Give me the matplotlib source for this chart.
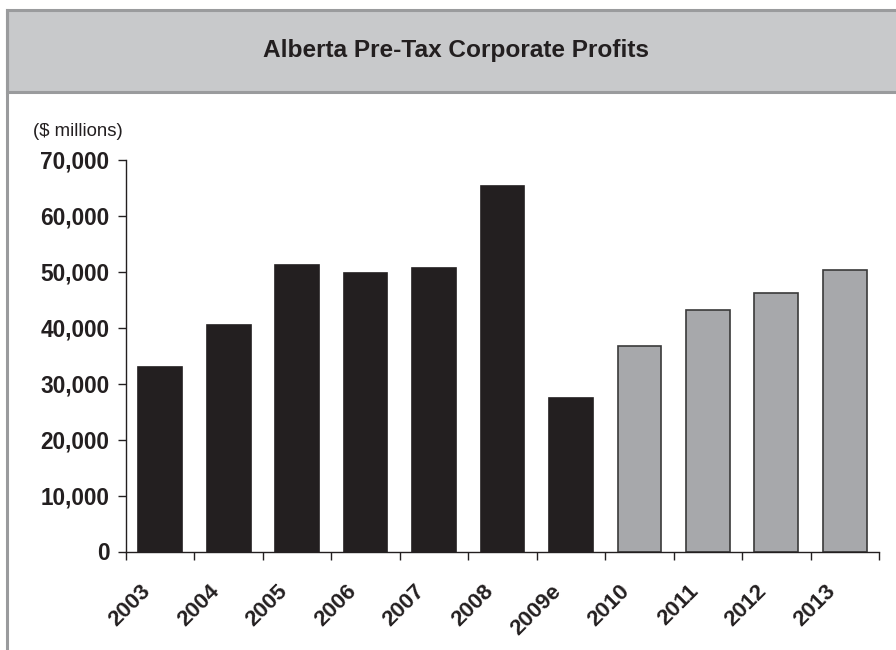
import matplotlib.pyplot as plt
from matplotlib.patches import Rectangle
from matplotlib.lines import Line2D
from matplotlib.transforms import ScaledTranslation
import numpy as np

plt.rcParams['font.family'] = ['Liberation Sans', 'DejaVu Sans']

# Data
years = ['2003', '2004', '2005', '2006', '2007', '2008', '2009e',
         '2010', '2011', '2012', '2013']
profits = [33000, 40500, 51200, 49800, 50700, 65300, 27400,
           36700, 43200, 46300, 50300]
is_forecast = [False] * 7 + [True] * 4

fig = plt.figure(figsize=(8.96, 6.5), dpi=100)

# Header band and frame
W, H = 896, 650
fig.patches.append(Rectangle((6.5 / W, 1 - 92 / H), 1, (92 - 10) / H,
                             transform=fig.transFigure, facecolor='#c8c9cb',
                             edgecolor='#9a9b9d', linewidth=2.2, zorder=0))
fig.lines.append(Line2D([6.5 / W, 6.5 / W], [0, 1 - 10 / H],
                        transform=fig.transFigure, color='#9a9b9d',
                        linewidth=2.2, zorder=1))
fig.text(456 / W, 1 - 51 / H, 'Alberta Pre-Tax Corporate Profits',
         ha='center', va='center', fontsize=17.6, fontweight='bold', color='#231f20')
fig.text(33 / W, 1 - 132 / H, '($ millions)', ha='left', va='center',
         fontsize=13.4, color='#231f20')

ax = fig.add_axes([126 / W, 1 - 551.5 / H, (879 - 126) / W, (551.5 - 160) / H])

x = np.arange(len(years))
colors = ['#a7a8ab' if f else '#231f20' for f in is_forecast]
edges = ['#3a3a3a' if f else '#231f20' for f in is_forecast]
ax.bar(x, profits, width=0.64, color=colors, edgecolor=edges, linewidth=1.2)

ax.set_xlim(-0.5, len(years) - 0.5)
ax.set_ylim(0, 70000)
ax.set_yticks(np.arange(0, 70001, 10000))
ax.set_yticklabels([f'{v:,}' for v in range(0, 70001, 10000)],
                   fontsize=16.3, fontweight='bold', color='#231f20')

# tick marks between categories, rotated labels drawn under each bar
ax.set_xticks(np.arange(-0.5, len(years), 1.0))
ax.set_xticklabels([])
shift = ScaledTranslation(-0.20, -0.29, fig.dpi_scale_trans)
for xi, lab in zip(x, years):
    ax.text(xi, 0, lab, transform=ax.get_xaxis_transform() + shift,
            rotation=45, ha='right', va='top', rotation_mode='anchor',
            fontsize=16, fontweight='bold', color='#231f20', clip_on=False)
ax.tick_params(axis='x', which='major', direction='out', length=6, width=1,
               color='#231f20')
ax.tick_params(axis='y', direction='out', length=6, width=1, color='#231f20',
               pad=6)

for s in ['top', 'right']:
    ax.spines[s].set_visible(False)
for s in ['left', 'bottom']:
    ax.spines[s].set_color('#231f20')
    ax.spines[s].set_linewidth(1)

fig.savefig('out.png', dpi=100)
